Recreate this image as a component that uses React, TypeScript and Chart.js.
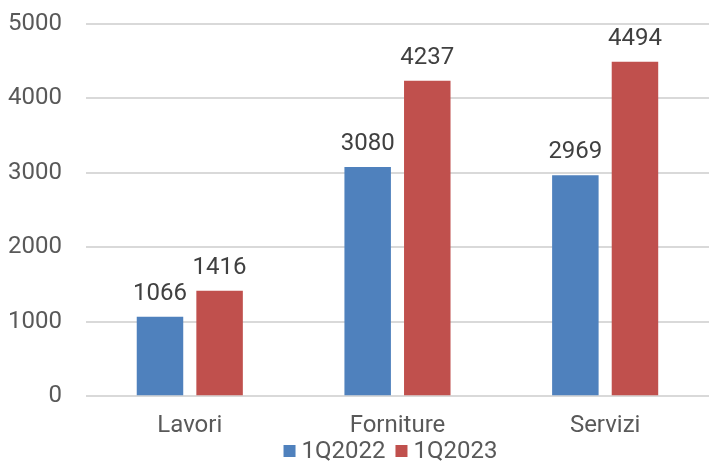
import React, { useEffect, useRef } from "react";
import { Chart, registerables } from "chart.js";

Chart.register(...registerables);

const categories = ["Lavori", "Forniture", "Servizi"];
const series2022 = [1066, 3080, 2969];
const series2023 = [1416, 4237, 4494];
const seriesLabels = ["1Q2022", "1Q2023"];
const seriesColors = ["#4F81BD", "#C0504D"];
const yTicks = [0, 1000, 2000, 3000, 4000, 5000];

const FONT = "Roboto, 'Noto Sans', sans-serif";
const FS = 24;

const dataLabelPlugin = {
  id: "dataLabels",
  afterDatasetsDraw(chart: any) {
    const ctx = chart.ctx;
    ctx.save();
    ctx.font = `${FS}px ${FONT}`;
    ctx.fillStyle = "#404040";
    ctx.textAlign = "center";
    ctx.textBaseline = "alphabetic";
    chart.data.datasets.forEach((ds: any, i: number) => {
      const meta = chart.getDatasetMeta(i);
      meta.data.forEach((bar: any, j: number) => {
        ctx.fillText(String(ds.data[j]), bar.x, bar.y - 17);
      });
    });
    ctx.restore();
  },
};

const legendPlugin = {
  id: "customLegend",
  afterDraw(chart: any) {
    const ctx = chart.ctx;
    ctx.save();
    ctx.font = `${FS}px ${FONT}`;
    ctx.textBaseline = "middle";
    ctx.textAlign = "left";
    const box = 12;
    const gap = 6;
    const spacing = 10;
    const widths = seriesLabels.map((l) => ctx.measureText(l).width);
    const total = widths.reduce((a, w) => a + box + gap + w, 0) + spacing * (seriesLabels.length - 1);
    const cx = (chart.chartArea.left + chart.chartArea.right) / 2 - 7;
    let x = cx - total / 2;
    const y = chart.height - 10;
    seriesLabels.forEach((l, i) => {
      ctx.fillStyle = seriesColors[i];
      ctx.fillRect(x, y - box / 2, box, box);
      x += box + gap;
      ctx.fillStyle = "#595959";
      ctx.fillText(l, x, y + 1);
      x += widths[i] + spacing;
    });
    ctx.restore();
  },
};

export default function App() {
  const ref = useRef<HTMLCanvasElement>(null);
  useEffect(() => {
    const chart = new Chart(ref.current!, {
      type: "bar",
      data: {
        labels: categories,
        datasets: seriesLabels.map((label, i) => ({
          label,
          data: i === 0 ? series2022 : series2023,
          backgroundColor: seriesColors[i],
          categoryPercentage: 0.574,
          barPercentage: 0.78,
        })),
      },
      options: {
        animation: false,
        responsive: false,
        maintainAspectRatio: false,
        layout: { padding: { top: 10, left: -16, right: -4, bottom: 6 } },
        plugins: {
          legend: { display: false },
          tooltip: { enabled: false },
        },
        scales: {
          x: {
            grid: { display: false, drawTicks: false },
            border: { display: false },
            ticks: {
              font: { family: FONT, size: FS },
              color: "#595959",
              padding: 15,
            },
          },
          y: {
            min: 0,
            max: 5000,
            afterBuildTicks: (axis: any) => {
              axis.ticks = yTicks.map((v) => ({ value: v }));
            },
            afterFit: (scale: any) => {
              scale.paddingTop = 24;
            },
            grid: { color: "#d9d9d9", lineWidth: 2, drawTicks: false },
            border: { display: false },
            ticks: {
              font: { family: FONT, size: FS },
              color: "#595959",
              padding: 24,
              callback: (v: any) => String(v),
            },
          },
        },
      },
      plugins: [dataLabelPlugin, legendPlugin],
    });
    return () => chart.destroy();
  }, []);
  return (
    <div style={{ position: "fixed", left: 0, top: 0, width: 709, height: 461, background: "#fff" }}>
      <canvas ref={ref} width={709} height={461} style={{ display: "block" }} />
    </div>
  );
}
